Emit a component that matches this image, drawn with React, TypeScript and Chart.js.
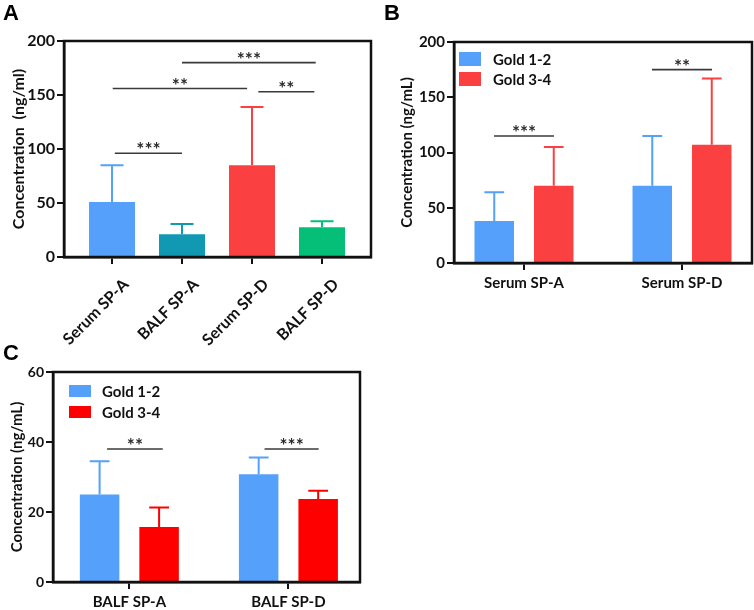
import React, { useEffect, useRef } from "react";
import { Chart, registerables } from "chart.js";

Chart.register(...registerables);

const FONT = "Lato, 'Open Sans', sans-serif";
const INK = "#111111";

// ---------- Panel A ----------
const catsA = ["Serum SP-A", "BALF SP-A", "Serum SP-D", "BALF SP-D"];
const meanA = [51, 21, 85, 27.5];
const errA = [34, 9.5, 54, 5.5];
const colorsA = ["#55A0FA", "#1198B3", "#FA4040", "#05BE78"];
const sigA = [
  { from: 0.04, to: 1.0, y: 96, label: "***" },
  { from: 0.01, to: 1.93, y: 156, label: "**" },
  { from: 2.09, to: 2.89, y: 153, label: "**" },
  { from: 1.0, to: 2.91, y: 180, label: "***" },
];

// ---------- Panel B ----------
const catsB = ["Serum SP-A", "Serum SP-D"];
const seriesNames = ["Gold 1-2", "Gold 3-4"];
const gold12B = [38, 70];
const err12B = [26, 45];
const gold34B = [70, 107];
const err34B = [35, 60];
const sigB = [
  { from: -0.19, to: 0.19, y: 115, label: "***" },
  { from: 0.81, to: 1.19, y: 175, label: "**" },
];

// ---------- Panel C ----------
const catsC = ["BALF SP-A", "BALF SP-D"];
const gold12C = [25, 30.8];
const err12C = [9.5, 4.8];
const gold34C = [15.7, 23.7];
const err34C = [5.6, 2.4];
const sigC = [
  { from: -0.14, to: 0.21, y: 38, label: "**" },
  { from: 0.85, to: 1.19, y: 38, label: "***" },
];

// ---------- plugins ----------
const errorBarPlugin = {
  id: "errorBars",
  afterDatasetsDraw(chart: any) {
    const { ctx } = chart;
    const ys = chart.scales.y;
    chart.data.datasets.forEach((ds: any, di: number) => {
      if (!ds.errors) return;
      const meta = chart.getDatasetMeta(di);
      meta.data.forEach((el: any, i: number) => {
        const mean = ds.data[i].y;
        const top = ys.getPixelForValue(mean + ds.errors[i]);
        const col = Array.isArray(ds.backgroundColor) ? ds.backgroundColor[i] : ds.backgroundColor;
        const hw = el.width / 4;
        ctx.save();
        ctx.strokeStyle = col;
        ctx.lineWidth = 2;
        ctx.beginPath();
        ctx.moveTo(el.x, el.y);
        ctx.lineTo(el.x, top);
        ctx.moveTo(el.x - hw, top);
        ctx.lineTo(el.x + hw, top);
        ctx.stroke();
        ctx.restore();
      });
    });
  },
};

const sigPlugin = {
  id: "sig",
  afterDatasetsDraw(chart: any, _args: any, opts: any) {
    const items = (opts && opts.items) || [];
    const { ctx } = chart;
    const xs = chart.scales.x;
    const ys = chart.scales.y;
    items.forEach((it: any) => {
      const x1 = xs.getPixelForValue(it.from);
      const x2 = xs.getPixelForValue(it.to);
      const yy = ys.getPixelForValue(it.y);
      ctx.save();
      ctx.strokeStyle = "#3a3a3a";
      ctx.lineWidth = 1.6;
      ctx.beginPath();
      ctx.moveTo(x1, yy);
      ctx.lineTo(x2, yy);
      ctx.stroke();
      ctx.fillStyle = "#2a2a2a";
      ctx.font = `bold ${opts.fontSize || 16}px ${FONT}`;
      ctx.textAlign = "center";
      ctx.textBaseline = "alphabetic";
      ctx.fillText(it.label, (x1 + x2) / 2, yy + 3);
      ctx.restore();
    });
  },
};

const boxLegendPlugin = {
  id: "boxLegend",
  afterDraw(chart: any, _args: any, opts: any) {
    if (!opts || !opts.show) return;
    const { ctx, chartArea } = chart;
    chart.data.datasets.forEach((ds: any, i: number) => {
      const bx = chartArea.left + opts.dx;
      const by = chartArea.top + opts.dy + i * opts.gap;
      ctx.save();
      ctx.fillStyle = ds.backgroundColor;
      ctx.fillRect(bx, by, opts.boxW, opts.boxH);
      ctx.fillStyle = INK;
      ctx.font = `bold ${opts.fontSize}px ${FONT}`;
      ctx.textAlign = "left";
      ctx.textBaseline = "middle";
      ctx.fillText(ds.label, chartArea.left + opts.textDx, by + opts.boxH / 2 + 1);
      ctx.restore();
    });
  },
};

const framePlugin = {
  id: "frame",
  afterDraw(chart: any) {
    const { ctx, chartArea } = chart;
    ctx.save();
    ctx.strokeStyle = INK;
    ctx.lineWidth = 2.5;
    ctx.strokeRect(chartArea.left, chartArea.top, chartArea.right - chartArea.left, chartArea.bottom - chartArea.top);
    ctx.restore();
  },
};

function makeConfig(p: any) {
  const gridOpts = { drawOnChartArea: false, drawTicks: true, tickLength: 7, lineWidth: 2, color: INK, offset: false };
  return {
    type: "bar",
    data: { datasets: p.datasets },
    plugins: [errorBarPlugin, sigPlugin, boxLegendPlugin, framePlugin],
    options: {
      responsive: false,
      animation: false,
      devicePixelRatio: 1,
      layout: { padding: { left: 0, top: p.padTop, right: p.padRight, bottom: 0 } },
      datasets: { bar: { categoryPercentage: p.catPct, barPercentage: p.barPct } },
      plugins: {
        legend: { display: false },
        tooltip: { enabled: false },
        sig: { items: p.sig, fontSize: 19 },
        boxLegend: p.legend || { show: false },
      },
      scales: {
        x: {
          type: "linear",
          offset: false,
          min: p.xMin,
          max: p.xMax,
          afterBuildTicks: (s: any) => {
            s.ticks = p.cats.map((_: string, i: number) => ({ value: i }));
          },
          afterFit: (s: any) => {
            s.height = p.xH;
          },
          ticks: {
            autoSkip: false,
            minRotation: p.rot,
            maxRotation: p.rot,
            padding: p.xPad,
            labelOffset: p.labelOffset || 0,
            color: INK,
            font: { family: FONT, weight: "bold", size: p.xFont },
            callback: (v: number) => p.cats[Math.round(v)] ?? "",
          },
          grid: gridOpts,
          border: { display: true, width: 2.5, color: INK },
        },
        y: {
          min: 0,
          max: p.yMax,
          afterFit: (s: any) => {
            s.width = p.yW;
          },
          ticks: {
            stepSize: p.yStep,
            padding: 2,
            color: INK,
            font: { family: FONT, weight: "bold", size: p.yFont },
          },
          title: {
            display: true,
            text: p.yTitle,
            color: INK,
            font: { family: FONT, weight: "bold", size: p.titleFont },
            padding: { top: p.titlePad, bottom: 0 },
          },
          grid: gridOpts,
          border: { display: true, width: 2.5, color: INK },
        },
      },
    },
  };
}

const configA = makeConfig({
  datasets: [
    {
      label: "A",
      data: meanA.map((v, i) => ({ x: i, y: v })),
      backgroundColor: colorsA,
      errors: errA,
    },
  ],
  cats: catsA,
  sig: sigA,
  xMin: -0.686,
  xMax: 3.7,
  yMax: 200,
  yStep: 50,
  yTitle: "Concentration  (ng/ml)",
  padTop: 41,
  padRight: 9,
  yW: 64,
  xH: 95,
  rot: 45,
  xPad: 11,
  labelOffset: 14,
  xFont: 16,
  yFont: 16,
  titleFont: 16,
  titlePad: 9,
  catPct: 1,
  barPct: 0.657,
});

const configB = makeConfig({
  datasets: [
    { label: seriesNames[0], data: gold12B.map((v, i) => ({ x: i, y: v })), backgroundColor: "#55A0FA", errors: err12B },
    { label: seriesNames[1], data: gold34B.map((v, i) => ({ x: i, y: v })), backgroundColor: "#FA4040", errors: err34B },
  ],
  cats: catsB,
  sig: sigB,
  xMin: -0.443,
  xMax: 1.443,
  yMax: 200,
  yStep: 50,
  yTitle: "Concentration (ng/mL)",
  padTop: 42,
  padRight: 2,
  yW: 74,
  xH: 47,
  rot: 0,
  xPad: 4,
  xFont: 15,
  yFont: 15,
  titleFont: 15,
  titlePad: 18,
  catPct: 0.753,
  barPct: 0.664,
  legend: { show: true, dx: 5, dy: 10, gap: 20, boxW: 22, boxH: 14, textDx: 39, fontSize: 15 },
});

const configC = makeConfig({
  datasets: [
    { label: seriesNames[0], data: gold12C.map((v, i) => ({ x: i, y: v })), backgroundColor: "#55A0FA", errors: err12C },
    { label: seriesNames[1], data: gold34C.map((v, i) => ({ x: i, y: v })), backgroundColor: "#FF0000", errors: err34C },
  ],
  cats: catsC,
  sig: sigC,
  xMin: -0.48,
  xMax: 1.45,
  yMax: 60,
  yStep: 20,
  yTitle: "Concentration (ng/mL)",
  padTop: 42,
  padRight: 20,
  yW: 53,
  xH: 48,
  rot: 0,
  xPad: 4,
  xFont: 15,
  yFont: 14,
  titleFont: 15,
  titlePad: 8,
  catPct: 0.748,
  barPct: 0.664,
  legend: { show: true, dx: 16, dy: 13, gap: 21, boxW: 22, boxH: 12, textDx: 49, fontSize: 15 },
});

function Panel({ config, left, top, width, height }: any) {
  const ref = useRef<HTMLCanvasElement>(null);
  useEffect(() => {
    const chart = new Chart(ref.current as HTMLCanvasElement, config);
    return () => chart.destroy();
  }, [config]);
  return (
    <canvas
      ref={ref}
      width={width}
      height={height}
      style={{ position: "absolute", left, top, width, height, display: "block" }}
    />
  );
}

const letterStyle: React.CSSProperties = {
  position: "absolute",
  fontFamily: "'Liberation Sans', Arial, sans-serif",
  fontWeight: "bold",
  fontSize: 22,
  lineHeight: "22px",
  color: "#000",
};

export default function App() {
  return (
    <div
      style={{
        position: "absolute",
        left: 0,
        top: 0,
        width: 754,
        height: 610,
        overflow: "hidden",
        background: "#fff",
      }}
    >
      <Panel config={configA} left={0} top={0} width={380} height={352} />
      <Panel config={configB} left={380} top={0} width={374} height={310} />
      <Panel config={configC} left={0} top={330} width={380} height={300} />
      <div style={{ ...letterStyle, left: 3, top: 2 }}>A</div>
      <div style={{ ...letterStyle, left: 384, top: 2 }}>B</div>
      <div style={{ ...letterStyle, left: 3, top: 342 }}>C</div>
    </div>
  );
}
